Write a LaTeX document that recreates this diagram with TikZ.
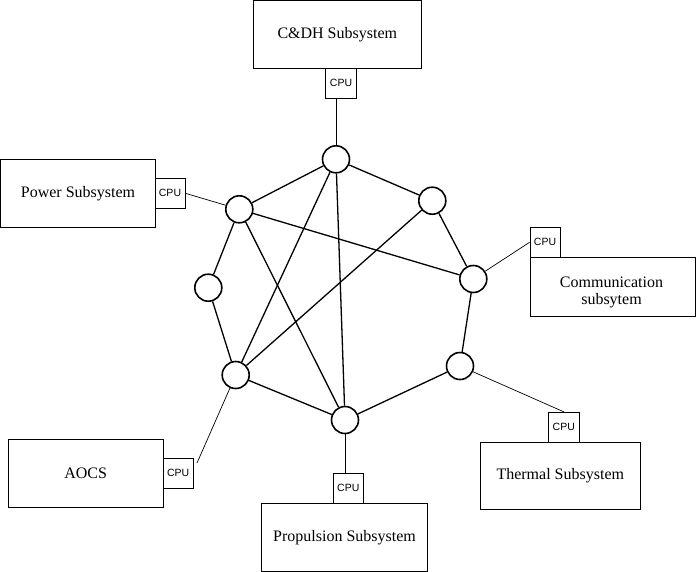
\documentclass[tikz,border=0pt]{standalone}
\usepackage{fontspec}
\setmainfont{Liberation Serif}
\newfontfamily\cpufont{Liberation Sans}
\usepackage{tikz}

\tikzset{
    subsys/.style={draw, line width=0.9pt, inner sep=0pt, align=center,
        font=\fontsize{16}{17}\selectfont},
    cpubox/.style={draw, line width=0.9pt, inner sep=0pt,
        minimum width=30pt, minimum height=30pt,
        font=\cpufont\fontsize{10.5}{12}\selectfont},
    busnode/.style={circle, draw, line width=1.6pt, minimum size=27pt, inner sep=0pt},
    link/.style={line width=1.3pt},
    tap/.style={line width=0.7pt}
}

\begin{document}
\begin{tikzpicture}[x=1pt,y=-1pt]
            \useasboundingbox (0,0) rectangle (696,571);
            % subsystems with their CPUs
            \node[subsys, minimum width=167.5pt, minimum height=67.5pt] (cdh) at (337.3,34.3) {C\&DH Subsystem};
            \node[cpubox, minimum width=31pt] (cpucdh) at (341,83) {CPU};
            \node[subsys, minimum width=154.3pt, minimum height=68pt] (power) at (78,193.3) {Power Subsystem};
            \node[cpubox] (cpupower) at (170,193.3) {CPU};
            \node[subsys, minimum width=165.5pt, minimum height=58.7pt] (comm) at (612.8,286.7) {};
            \node[align=center, font=\fontsize{16}{17}\selectfont, inner sep=0pt] (commtext) at (611.5,292.5) {Communication\\subsytem};
            \node[cpubox] (cpucomm) at (545,242.3) {CPU};
            \node[subsys, minimum width=154.7pt, minimum height=68pt] (aocs) at (85.7,473.3) {AOCS};
            \node[cpubox] (cpuaocs) at (178.2,473.3) {CPU};
            \node[subsys, minimum width=165.6pt, minimum height=68pt] (prop) at (344.5,537.3) {Propulsion Subsystem};
            \node[cpubox] (cpuprop) at (348.3,488.3) {CPU};
            \node[subsys, minimum width=159.3pt, minimum height=67pt] (thermal) at (560.3,475.8) {Thermal Subsystem};
            \node[cpubox, minimum width=31pt] (cputhermal) at (563.8,427.3) {CPU};

            % network nodes
            \node[busnode] (n1) at (336,159.3) {};
            \node[busnode] (n2) at (432.3,200.7) {};
            \node[busnode] (n3) at (473.3,279) {};
            \node[busnode] (n4) at (460,366) {};
            \node[busnode] (n5) at (345,420) {};
            \node[busnode] (n6) at (235.7,375) {};
            \node[busnode] (n7) at (208.3,287.7) {};
            \node[busnode] (n8) at (239.3,209.3) {};

            % links
            \draw[link] (n1) -- (n2);
            \draw[link] (n2) -- (n3);
            \draw[link] (n3) -- (n4);
            \draw[link] (n4) -- (n5);
            \draw[link] (n5) -- (n6);
            \draw[link] (n6) -- (n7);
            \draw[link] (n7) -- (n8);
            \draw[link] (n8) -- (n1);
            \draw[link] (n1) -- (n6);
            \draw[link] (n1) -- (n5);
            \draw[link] (n8) -- (n3);
            \draw[link] (n8) -- (n5);
            \draw[link] (n6) -- (n2);

            % CPU taps
            \coordinate (aocstap) at (197,463);
            \draw[tap] (n1) -- (n1 |- cpucdh.south);
            \draw[tap] (n8) -- (cpupower.east);
            \draw[tap] (n3) -- (cpucomm.west);
            \draw[tap] (n6) -- (aocstap);
            \draw[tap] (n5) -- (n5 |- cpuprop.north);
            \draw[tap] (n4) -- (cputhermal.north);
        \end{tikzpicture}
\end{document}
